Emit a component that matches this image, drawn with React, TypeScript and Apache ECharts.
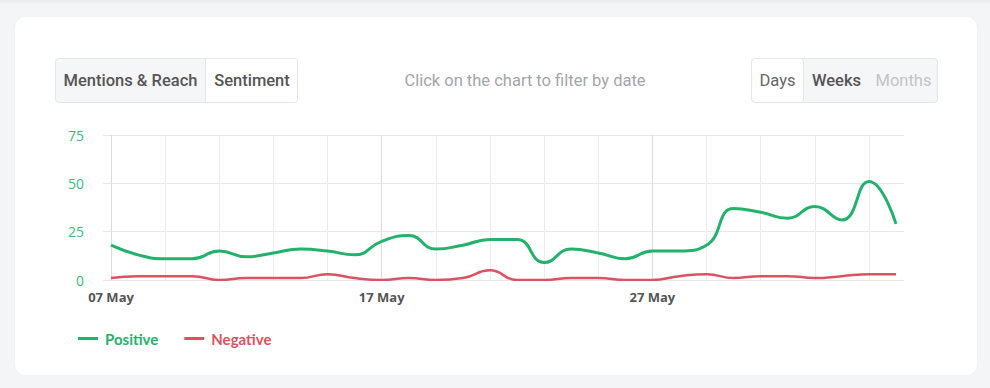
import React, { useEffect, useRef } from "react";
import * as echarts from "echarts";

const dates = [
  "07 May", "08 May", "09 May", "10 May", "11 May", "12 May", "13 May", "14 May", "15 May", "16 May",
  "17 May", "18 May", "19 May", "20 May", "21 May", "22 May", "23 May", "24 May", "25 May", "26 May",
  "27 May", "28 May", "29 May", "30 May", "31 May", "01 Jun", "02 Jun", "03 Jun", "04 Jun", "05 Jun",
];
const positive = [18, 13, 11, 11, 15, 12, 14, 16, 15, 13, 20, 23, 16, 18, 21, 21, 9, 16, 14, 11, 15, 15, 18, 37, 35, 32, 38, 31, 51, 29];
const negative = [1, 2, 2, 2, 0, 1, 1, 1, 3, 1, 0, 1, 0, 1, 5, 0, 0, 1, 1, 0, 0, 2, 3, 1, 2, 2, 1, 2, 3, 3];
const yTicks = [0, 25, 50, 75];
const seriesNames = ["Positive", "Negative"];

const GREEN = "#22b26b";
const RED = "#dc5261";

const btnBase: React.CSSProperties = {
  position: "absolute",
  top: 0,
  height: "100%",
  display: "flex",
  alignItems: "center",
  justifyContent: "center",
  fontFamily: "Roboto, sans-serif",
  fontSize: 16.5,
  boxSizing: "border-box",
};

export default function App() {
  const ref = useRef<HTMLDivElement>(null);

  useEffect(() => {
    document.body.style.margin = "0";
    const chart = echarts.init(ref.current!, null, { renderer: "svg" });
    const gridLine = "#e8e8e8";
    chart.setOption({
      animation: false,
      grid: [
        { left: 103, right: 86, top: 135, bottom: 108, containLabel: false },
        { left: 111, right: 94, top: 135, bottom: 108, containLabel: false },
      ],
      legend: {
        left: 73,
        top: 326,
        itemWidth: 20,
        itemHeight: 3,
        itemGap: 26,
        icon: "rect",
        data: [
          { name: seriesNames[0], textStyle: { color: GREEN } },
          { name: seriesNames[1], textStyle: { color: RED } },
        ],
        textStyle: {
          fontFamily: "Lato, 'Open Sans', sans-serif",
          fontWeight: "bold",
          fontSize: 15,
          padding: [0, 0, 0, 2],
        },
      },
      xAxis: [
        {
          gridIndex: 0,
          type: "category",
          data: dates,
          show: false,
        },
        {
          gridIndex: 1,
          type: "category",
          data: dates,
          boundaryGap: false,
          axisLine: { show: false },
          axisTick: { show: false },
          axisLabel: {
            interval: 9,
            margin: 10,
            color: "#555",
            fontWeight: "bold",
            fontSize: 13,
            fontFamily: "'Open Sans', sans-serif",
          },
          splitLine: {
            show: true,
            interval: 1,
            lineStyle: { color: ["#dcdcdc", "#ececec", "#ececec", "#ececec", "#ececec"], width: 1 },
          },
        },
      ],
      yAxis: [
        {
          gridIndex: 0,
          type: "value",
          min: yTicks[0],
          max: yTicks[yTicks.length - 1],
          interval: yTicks[1] - yTicks[0],
          axisLine: { show: false },
          axisTick: { show: false },
          axisLabel: {
            margin: 19,
            color: "#3dba7a",
            fontSize: 14,
            fontFamily: "'Open Sans', sans-serif",
          },
          splitLine: { show: true, lineStyle: { color: gridLine, width: 1 } },
        },
        {
          gridIndex: 1,
          type: "value",
          min: yTicks[0],
          max: yTicks[yTicks.length - 1],
          interval: yTicks[1] - yTicks[0],
          show: false,
          splitLine: { show: false },
        },
      ],
      series: [
        {
          name: seriesNames[0],
          type: "line",
          xAxisIndex: 1,
          yAxisIndex: 1,
          data: positive,
          smooth: 0.5,
          showSymbol: false,
          symbol: "none",
          color: GREEN,
          lineStyle: { width: 3, color: GREEN },
          z: 3,
        },
        {
          name: seriesNames[1],
          type: "line",
          xAxisIndex: 1,
          yAxisIndex: 1,
          data: negative,
          smooth: 0.5,
          showSymbol: false,
          symbol: "none",
          color: RED,
          lineStyle: { width: 2.5, color: RED },
          z: 2,
        },
      ],
    });
    return () => chart.dispose();
  }, []);

  return (
    <div
      style={{
        position: "absolute",
        left: 0,
        top: 0,
        width: 990,
        height: 388,
        background: "#f4f5f7",
        overflow: "hidden",
      }}
    >
      <div
        style={{
          position: "absolute",
          left: 0,
          top: 0,
          width: 990,
          height: 5,
          background: "linear-gradient(#e8eaed, #f4f5f7)",
        }}
      />
      <div
        style={{
          position: "absolute",
          left: 15,
          top: 17,
          width: 962,
          height: 358,
          background: "#fff",
          borderRadius: 10,
          boxShadow: "0 0 2px rgba(0,0,0,0.04)",
        }}
      />
      <div ref={ref} style={{ position: "absolute", left: 0, top: 0, width: 990, height: 388 }} />
      {/* left toggle group */}
      <div
        style={{
          position: "absolute",
          left: 55,
          top: 58,
          width: 243,
          height: 45,
          border: "1px solid #e3e5e8",
          borderRadius: 4,
          background: "#f5f6f8",
          boxSizing: "border-box",
          overflow: "hidden",
        }}
      >
        <div style={{ ...btnBase, left: 0, width: 149, color: "#555", fontWeight: 500 }}>Mentions &amp; Reach</div>
        <div
          style={{
            ...btnBase,
            left: 149,
            width: 93,
            color: "#555",
            fontWeight: 500,
            background: "#fff",
            borderLeft: "1px solid #e3e5e8",
          }}
        >
          Sentiment
        </div>
      </div>
      <div
        style={{
          position: "absolute",
          left: 325,
          top: 68,
          width: 400,
          height: 24,
          display: "flex",
          alignItems: "center",
          justifyContent: "center",
          fontFamily: "Roboto, sans-serif",
          fontSize: 16.5,
          color: "#a2a6ac",
        }}
      >
        Click on the chart to filter by date
      </div>
      {/* right toggle group */}
      <div
        style={{
          position: "absolute",
          left: 751,
          top: 58,
          width: 187,
          height: 45,
          border: "1px solid #e3e5e8",
          borderRadius: 4,
          background: "#f5f6f8",
          boxSizing: "border-box",
          overflow: "hidden",
        }}
      >
        <div
          style={{
            ...btnBase,
            left: 0,
            width: 52,
            color: "#666",
            background: "#fff",
            borderRight: "1px solid #e3e5e8",
            borderRadius: 4,
          }}
        >
          Days
        </div>
        <div style={{ ...btnBase, left: 52, width: 65, color: "#555", fontWeight: 500 }}>Weeks</div>
        <div style={{ ...btnBase, left: 117, width: 69, color: "#c2c4c8" }}>Months</div>
      </div>
    </div>
  );
}
